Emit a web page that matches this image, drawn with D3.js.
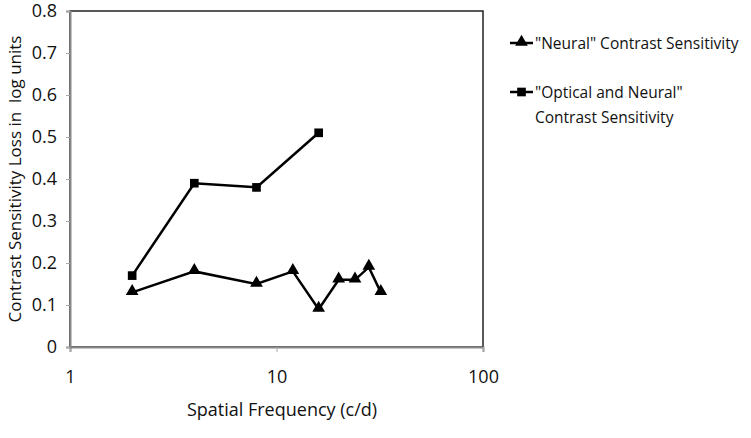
<!DOCTYPE html>
<html>
<head>
<meta charset="utf-8">
<script src="https://cdn.jsdelivr.net/npm/d3@7"></script>
<style>
  body { margin: 0; background: #fff; }
  text { font-family: "Open Sans", Lato, sans-serif; fill: #111; }
</style>
</head>
<body>
<div id="chart"></div>
<script>
// data
var neuralFreq = [2, 4, 8, 12, 16, 20, 24, 28, 32];
var neuralLoss = [0.13, 0.18, 0.15, 0.18, 0.09, 0.16, 0.16, 0.19, 0.13];
var opticalFreq = [2, 4, 8, 16];
var opticalLoss = [0.17, 0.39, 0.38, 0.51];
var xTicks = [1, 10, 100];
var yTicks = [0, 0.1, 0.2, 0.3, 0.4, 0.5, 0.6, 0.7, 0.8];

var svgWidth = 751;
var svgHeight = 438;

var margin = { top: 11, right: 268, bottom: 91, left: 70 };
var width = svgWidth - margin.left - margin.right;
var height = svgHeight - margin.top - margin.bottom;

var svg = d3.select("#chart")
  .append("svg")
  .attr("width", svgWidth)
  .attr("height", svgHeight);

var chartGroup = svg.append("g")
  .attr("transform", `translate(${margin.left}, ${margin.top})`);

var xScale = d3.scaleLog().domain([1, 100]).range([0, width]);
var yScale = d3.scaleLinear().domain([0, 0.8]).range([height, 0]);

// plot frame
chartGroup.append("rect")
  .attr("width", width)
  .attr("height", height)
  .attr("fill", "none")
  .attr("stroke", "#222")
  .attr("stroke-width", 1.5);

// axes
var bottomAxis = d3.axisBottom(xScale).tickValues(xTicks).tickFormat(d3.format("d")).tickSize(5).tickPadding(18);
var leftAxis = d3.axisLeft(yScale).tickValues(yTicks).tickFormat(d => d === 0 ? "0" : d3.format(".1f")(d)).tickSize(4).tickPadding(9);

var xg = chartGroup.append("g")
  .attr("transform", `translate(0, ${height})`)
  .call(bottomAxis);
var yg = chartGroup.append("g").call(leftAxis);

[xg, yg].forEach(function(g) {
  g.select(".domain").attr("stroke", "#888").attr("stroke-width", 2);
  g.selectAll(".tick line").attr("stroke", "#aaa");
  g.selectAll(".tick text").attr("font-size", 18).attr("fill", "#111");
});

// lines
var line = d3.line().x(d => xScale(d[0])).y(d => yScale(d[1]));
var neural = neuralFreq.map((f, i) => [f, neuralLoss[i]]);
var optical = opticalFreq.map((f, i) => [f, opticalLoss[i]]);

chartGroup.append("path").datum(optical).attr("d", line)
  .attr("fill", "none").attr("stroke", "#000").attr("stroke-width", 2.5);
chartGroup.append("path").datum(neural).attr("d", line)
  .attr("fill", "none").attr("stroke", "#000").attr("stroke-width", 2.5);

var tri = d3.symbol().type(d3.symbolTriangle).size(70);
var sq = d3.symbol().type(d3.symbolSquare).size(75);

chartGroup.selectAll(".tri").data(neural).enter().append("path")
  .attr("class", "tri")
  .attr("d", tri)
  .attr("transform", d => `translate(${xScale(d[0])}, ${yScale(d[1]) - 1})`)
  .attr("fill", "#000");

chartGroup.selectAll(".sq").data(optical).enter().append("path")
  .attr("class", "sq")
  .attr("d", sq)
  .attr("transform", d => `translate(${xScale(d[0])}, ${yScale(d[1])})`)
  .attr("fill", "#000");

// axis titles
svg.append("text")
  .attr("transform", `translate(21, ${margin.top + height / 2}) rotate(-90)`)
  .attr("text-anchor", "middle")
  .attr("font-size", 17)
  .attr("xml:space", "preserve")
  .text("Contrast Sensitivity Loss in  log units");

svg.append("text")
  .attr("x", 282)
  .attr("y", 416)
  .attr("text-anchor", "middle")
  .attr("font-size", 18)
  .text("Spatial Frequency (c/d)");

// legend
var legend = svg.append("g");
legend.append("line").attr("x1", 510).attr("x2", 533).attr("y1", 43).attr("y2", 43)
  .attr("stroke", "#000").attr("stroke-width", 2.5);
legend.append("path").attr("d", tri).attr("transform", "translate(521.5, 42)").attr("fill", "#000");
legend.append("text").attr("x", 535).attr("y", 49).attr("font-size", 15.5)
  .text("\"Neural\" Contrast Sensitivity");

legend.append("line").attr("x1", 510).attr("x2", 533).attr("y1", 92).attr("y2", 92)
  .attr("stroke", "#000").attr("stroke-width", 2.5);
legend.append("path").attr("d", sq).attr("transform", "translate(521.5, 92)").attr("fill", "#000");
legend.append("text").attr("x", 535).attr("y", 98).attr("font-size", 15.5)
  .text("\"Optical and Neural\"");
legend.append("text").attr("x", 535).attr("y", 123).attr("font-size", 15.5)
  .text("Contrast Sensitivity");
</script>
</body>
</html>
